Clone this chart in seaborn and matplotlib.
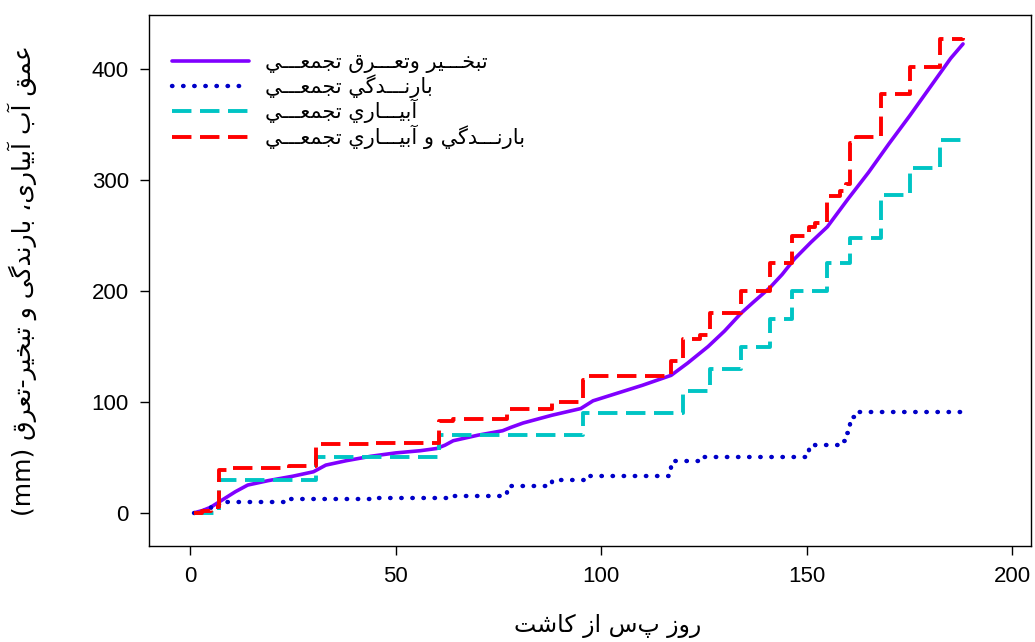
import matplotlib
matplotlib.use("Agg")
import matplotlib.pyplot as plt
import seaborn as sns
from matplotlib.font_manager import FontProperties

# ── Data ─────────────────────────────────────────────────────────────────────
et_days = [1, 3, 5, 8, 11, 14, 19, 25, 30, 33, 38, 44, 50, 56, 60, 62, 64, 70,
           76, 78, 81, 88, 95, 98, 104, 110, 117, 121, 126, 130, 134, 137, 141,
           144, 147, 151, 155, 160, 165, 170, 175, 180, 185, 188]
et_mm = [0, 2, 5, 12, 19, 25, 29, 33, 37, 43, 47, 51, 54, 56, 58, 61, 65, 70,
         74, 77, 81, 88, 94, 101, 108, 115, 124, 135, 150, 164, 180, 190, 203,
         215, 229, 244, 258, 283, 307, 333, 358, 384, 410, 423]

rain_days = [1, 3, 5, 7, 9, 24, 45, 64, 77, 88, 97, 117, 124, 150.5, 152, 158,
             159.5, 160.5, 162, 188]
rain_mm = [0, 2, 5, 9, 10, 12, 13, 15, 24, 30, 33, 47, 50, 58, 61, 65, 72, 86,
           91, 92]

irr_days = [1, 7, 30.5, 60.5, 95.5, 120, 126.5, 134, 141, 146.5, 155, 160.5,
            168, 175, 182.5, 188]
irr_mm = [0, 30, 50, 70, 90, 110, 130, 150, 175, 200, 225, 248, 287, 311, 336,
          336]

total_days = [1, 3, 5, 7, 9, 24, 30.5, 45, 60.5, 64, 77, 88, 95.5, 97, 117, 120,
              124, 126.5, 134, 141, 146.5, 150.5, 152, 155, 158, 159.5, 160.5,
              162, 168, 175, 182.5, 188]
total_mm = [0, 2, 5, 39, 40, 42, 62, 63, 83, 85, 94, 100, 120, 123, 137, 157,
            160, 180, 200, 225, 250, 258, 261, 286, 290, 297, 334, 339, 378,
            402, 427, 428]

x_ticks = [0, 50, 100, 150, 200]
y_ticks = [0, 100, 200, 300, 400]

labels = ["تبخـــير وتعـــرق تجمعـــي",
          "بارنـــدگي تجمعـــي",
          "آبيـــاري تجمعـــي",
          "بارنـــدگي و آبيـــاري تجمعـــي"]
x_title = "روز پس از کاشت"
y_title = "عمق آب آبیاری، بارندگی و تبخیر-تعرق"
y_unit = "(mm)"

# ── Minimal Arabic shaping (matplotlib has no shaping / bidi) ───────────────
FORMS = {
    "ا": ("\uFE8D", "\uFE8E", None, None),
    "آ": ("\uFE81", "\uFE82", None, None),
    "د": ("\uFEA9", "\uFEAA", None, None),
    "ر": ("\uFEAD", "\uFEAE", None, None),
    "ز": ("\uFEAF", "\uFEB0", None, None),
    "و": ("\uFEED", "\uFEEE", None, None),
    "ب": ("\uFE8F", "\uFE90", "\uFE91", "\uFE92"),
    "پ": ("\uFB56", "\uFB57", "\uFB58", "\uFB59"),
    "ت": ("\uFE95", "\uFE96", "\uFE97", "\uFE98"),
    "ج": ("\uFE9D", "\uFE9E", "\uFE9F", "\uFEA0"),
    "خ": ("\uFEA5", "\uFEA6", "\uFEA7", "\uFEA8"),
    "ش": ("\uFEB5", "\uFEB6", "\uFEB7", "\uFEB8"),
    "ع": ("\uFEC9", "\uFECA", "\uFECB", "\uFECC"),
    "ق": ("\uFED5", "\uFED6", "\uFED7", "\uFED8"),
    "ک": ("\uFB8E", "\uFB8F", "\uFB90", "\uFB91"),
    "گ": ("\uFB92", "\uFB93", "\uFB94", "\uFB95"),
    "م": ("\uFEE1", "\uFEE2", "\uFEE3", "\uFEE4"),
    "ن": ("\uFEE5", "\uFEE6", "\uFEE7", "\uFEE8"),
    "ي": ("\uFEF1", "\uFEF2", "\uFEF3", "\uFEF4"),
    "ی": ("\uFBFC", "\uFBFD", "\uFBFE", "\uFBFF"),
    "ـ": ("\u0640", "\u0640", "\u0640", "\u0640"),
}


def shape(text):
    out = []
    for i, ch in enumerate(text):
        if ch not in FORMS:
            out.append(ch)
            continue
        prev = text[i - 1] if i > 0 else ""
        nxt = text[i + 1] if i + 1 < len(text) else ""
        iso, fin, ini, med = FORMS[ch]
        j_prev = prev in FORMS and FORMS[prev][2] is not None
        j_next = ini is not None and nxt in FORMS
        if j_prev and j_next:
            out.append(med)
        elif j_prev:
            out.append(fin)
        elif j_next:
            out.append(ini)
        else:
            out.append(iso)
    return "".join(reversed(out))


# ── Plot ─────────────────────────────────────────────────────────────────────
sns.set_theme(style="ticks")
plt.rcParams["font.family"] = ["Liberation Sans", "DejaVu Sans"]
arabic = ["DejaVu Sans"]

fig = plt.figure(figsize=(10.35, 6.42), dpi=100)
ax = fig.add_axes([0.144, 0.1495, 0.852, 0.827])

sns.lineplot(x=et_days, y=et_mm, ax=ax, color="#8000FF", lw=2.6,
             estimator=None, label=shape(labels[0]))
sns.lineplot(x=rain_days, y=rain_mm, ax=ax, color="#0000C8", lw=3.2,
             estimator=None, drawstyle="steps-post",
             linestyle=(0, (0.1, 2.4)), dash_capstyle="round",
             label=shape(labels[1]))
sns.lineplot(x=irr_days, y=irr_mm, ax=ax, color="#00C4C4", lw=2.8,
             estimator=None, drawstyle="steps-post",
             linestyle=(0, (5, 2.2)), label=shape(labels[2]))
sns.lineplot(x=total_days, y=total_mm, ax=ax, color="#FF0000", lw=2.8,
             estimator=None, drawstyle="steps-post",
             linestyle=(0, (5, 2.2)), label=shape(labels[3]))

ax.set_xlim(-10, 204.5)
ax.set_ylim(-30, 449)
ax.set_xticks(x_ticks)
ax.set_yticks(y_ticks)
ax.tick_params(direction="out", length=6.5, width=1, color="black",
               pad=8, labelcolor="black")
ax.set_xticklabels([str(v) for v in x_ticks], fontsize=16)
ax.set_yticklabels([str(v) for v in y_ticks], fontsize=16)
for sp in ax.spines.values():
    sp.set_color("black")
    sp.set_linewidth(1.0)

ax.set_xlabel(shape(x_title), family=arabic, fontsize=17, color="black")
ax.xaxis.set_label_coords(0.52, -0.128)
ax.set_ylabel(y_unit + " " + shape(y_title), family=arabic, fontsize=18,
              color="black")
ax.yaxis.set_label_coords(-0.127, 0.5)

leg = ax.legend(loc="upper left", bbox_to_anchor=(0.005, 0.966), frameon=False,
                prop=FontProperties(family=arabic, size=15),
                handlelength=3.7, handletextpad=0.75, labelspacing=0.06)
for t in leg.get_texts():
    t.set_color("black")

fig.savefig("out.png", dpi=100)
